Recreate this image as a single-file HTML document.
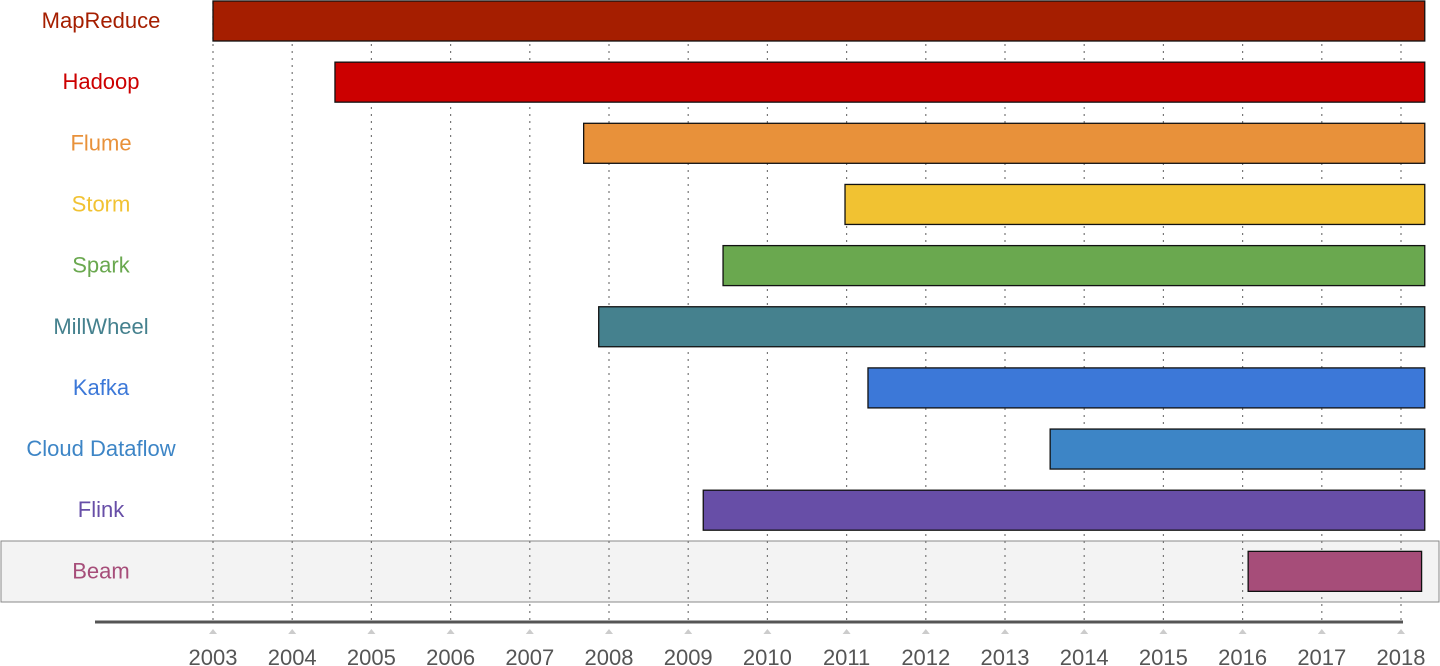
<!DOCTYPE html>
<html><head><meta charset="utf-8"><style>
html,body{margin:0;padding:0;background:#fff;}
svg{display:block;font-family:"Liberation Sans",sans-serif;}
</style></head><body>
<svg id="c" width="1440" height="666"></svg>
<script>
const names=["MapReduce","Hadoop","Flume","Storm","Spark","MillWheel","Kafka","Cloud Dataflow","Flink","Beam"];
const starts=[2003.0,2004.54,2007.68,2010.98,2009.44,2007.87,2011.27,2013.57,2009.19,2016.07];
const ends=[2018.3,2018.3,2018.3,2018.3,2018.3,2018.3,2018.3,2018.3,2018.3,2018.26];
const colors=["#a51e00","#cc0000","#e8913a","#f1c232","#6aa84f","#45818e","#3c78d8","#3d85c6","#674ea7","#a64d79"];
const years=[2003,2004,2005,2006,2007,2008,2009,2010,2011,2012,2013,2014,2015,2016,2017,2018];
const NS="http://www.w3.org/2000/svg";
const svg=document.getElementById('c');
const x=v=>213+(v-2003)*79.2;
const y=i=>1+i*61.15;
function mk(t,a,p){const e=document.createElementNS(NS,t);for(const k in a)e.setAttribute(k,a[k]);(p||svg).appendChild(e);return e;}
const hl=mk('rect',{x:1,y:541,width:1438,height:61,fill:'#f3f3f3',stroke:'#888','stroke-width':1});


years.forEach(yr=>{
  const g=mk('line',{x1:x(yr),x2:x(yr),y1:2,y2:620,stroke:'#777','stroke-width':1.2,'stroke-dasharray':'2,5'});
  
  
  const tk=mk('polygon',{points:`${x(yr)-4},634 ${x(yr)+4},634 ${x(yr)},629`,fill:'#ccc'});
  
  
  const t=mk('text',{x:x(yr),y:665,'text-anchor':'middle','font-size':22,fill:'#555'});
  t.textContent=yr;
  
  
});
const ax=mk('line',{x1:95,x2:1403,y1:622,y2:622,stroke:'#555','stroke-width':3});


names.forEach((n,i)=>{
  const b=mk('rect',{x:x(starts[i]),y:y(i),width:x(ends[i])-x(starts[i]),height:40,fill:colors[i],stroke:'#111','stroke-width':1.3});
  
  
  const t=mk('text',{x:101,y:y(i)+27,'text-anchor':'middle','font-size':22,fill:colors[i]});
  t.textContent=n;
  
  
});
</script>
</body></html>
